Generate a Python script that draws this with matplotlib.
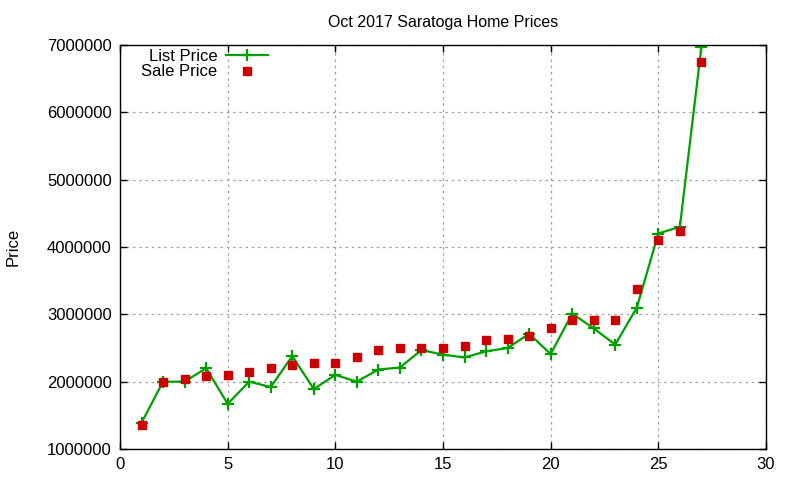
import matplotlib.pyplot as plt
from matplotlib.ticker import FormatStrFormatter

plt.rcParams['font.family'] = ['Liberation Sans', 'DejaVu Sans']

# Oct 2017 Saratoga home prices, by sale index
idx = list(range(1, 28))
list_price = [1390000, 2000000, 2000000, 2200000, 1670000, 2000000, 1920000,
              2380000, 1890000, 2100000, 2000000, 2180000, 2210000, 2470000,
              2400000, 2360000, 2450000, 2500000, 2710000, 2410000, 3010000,
              2790000, 2550000, 3100000, 4200000, 4300000, 6970000]
sale_price = [1360000, 2000000, 2040000, 2090000, 2100000, 2150000, 2210000,
              2250000, 2270000, 2280000, 2370000, 2470000, 2500000, 2500000,
              2500000, 2530000, 2620000, 2640000, 2680000, 2800000, 2910000,
              2920000, 2920000, 3380000, 4110000, 4230000, 6750000]

fig = plt.figure(figsize=(8, 4.8), dpi=100)
ax = fig.add_axes([0.15, 0.0646, 0.8075, 0.8417])

ax.plot(idx, list_price, color='#00a000', lw=1.6, marker='+', ms=9, mew=1.6,
        label='List Price')
ax.plot(idx, sale_price, ls='none', color='#cc0000', marker='s', ms=6,
        label='Sale Price')

ax.set_xlim(0, 30)
ax.set_ylim(1000000, 7000000)
ax.set_xticks(range(0, 31, 5))
ax.set_yticks(range(1000000, 7000001, 1000000))
ax.yaxis.set_major_formatter(FormatStrFormatter('%d'))
ax.tick_params(direction='in', top=True, right=True, length=5, width=1,
               labelsize=12, pad=6, colors='black')
for s in ax.spines.values():
    s.set_linewidth(1)
ax.grid(True, color='#a0a0a0', ls=(0, (2, 3)), lw=0.9)
ax.set_axisbelow(True)

ax.set_title('Oct 2017 Saratoga Home Prices', fontsize=11.5, pad=13)
ax.set_ylabel('Price', fontsize=12, labelpad=19)

ax.legend(loc='upper left', bbox_to_anchor=(0.01, 1.028), frameon=False,
          markerfirst=False, handlelength=2.5, handletextpad=0.5,
          labelspacing=0.05, fontsize=12)

fig.savefig('out.png', dpi=100)
